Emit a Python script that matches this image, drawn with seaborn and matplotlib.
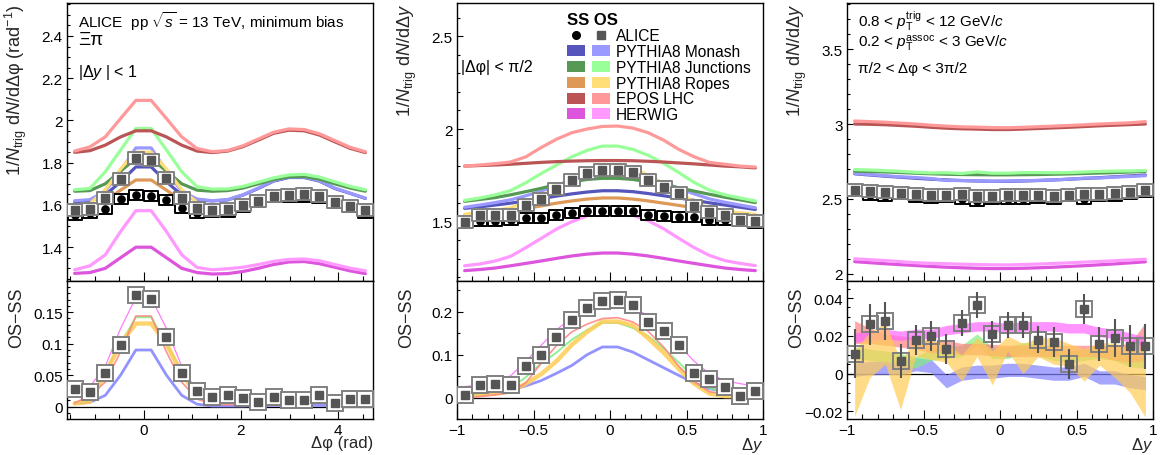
import numpy as np
import matplotlib
matplotlib.use("Agg")
import matplotlib.pyplot as plt
import seaborn as sns
from matplotlib.patches import Patch
from matplotlib.lines import Line2D
from matplotlib.legend_handler import HandlerTuple
from matplotlib.ticker import MultipleLocator, FuncFormatter
from matplotlib.path import Path

# ---------------- data ----------------
models = ["Monash", "Junctions", "Ropes", "EPOS", "HERWIG"]
model_labels = ["PYTHIA8 Monash", "PYTHIA8 Junctions", "PYTHIA8 Ropes", "EPOS LHC", "HERWIG"]

# bin centres
dphi = -np.pi / 2 + (np.arange(20) + 0.5) * np.pi / 10
dy = -0.95 + np.arange(20) * 0.1

# ---- panel 1 : delta phi ----
p1_alice_os = [1.576, 1.581, 1.635, 1.723, 1.820, 1.812, 1.729, 1.635, 1.587, 1.576,
               1.581, 1.600, 1.620, 1.644, 1.647, 1.650, 1.644, 1.613, 1.597, 1.575]
p1_alice_ss = [1.553, 1.561, 1.581, 1.627, 1.647, 1.644, 1.622, 1.584, 1.560, 1.565,
               1.568, 1.592, 1.613, 1.636, 1.636, 1.638, 1.631, 1.608, 1.589, 1.564]
p1_alice_diff = [0.0285, 0.024, 0.054, 0.098, 0.178, 0.171, 0.110, 0.053, 0.025, 0.015,
                 0.019, 0.014, 0.008, 0.016, 0.011, 0.011, 0.018, 0.006, 0.012, 0.012]
p1_monash_ss = [1.615, 1.618, 1.647, 1.710, 1.780, 1.780, 1.710, 1.647, 1.624, 1.619,
                1.624, 1.647, 1.678, 1.713, 1.730, 1.730, 1.713, 1.678, 1.655, 1.631]
p1_monash_os = [1.620, 1.625, 1.665, 1.760, 1.870, 1.870, 1.760, 1.665, 1.628, 1.620,
                1.625, 1.648, 1.680, 1.715, 1.732, 1.732, 1.715, 1.680, 1.656, 1.632]
p1_junc_ss = [1.665, 1.668, 1.700, 1.760, 1.820, 1.820, 1.760, 1.700, 1.670, 1.665,
              1.668, 1.680, 1.700, 1.720, 1.733, 1.735, 1.722, 1.700, 1.680, 1.665]
p1_junc_os = [1.672, 1.678, 1.757, 1.860, 1.962, 1.962, 1.860, 1.757, 1.686, 1.675,
              1.676, 1.688, 1.708, 1.728, 1.742, 1.745, 1.732, 1.710, 1.688, 1.672]
p1_ropes_ss = [1.595, 1.598, 1.620, 1.670, 1.718, 1.718, 1.670, 1.620, 1.595, 1.585,
               1.590, 1.600, 1.620, 1.640, 1.648, 1.650, 1.642, 1.620, 1.600, 1.580]
p1_ropes_os = [1.600, 1.606, 1.672, 1.770, 1.850, 1.850, 1.770, 1.672, 1.612, 1.594,
               1.598, 1.608, 1.628, 1.648, 1.656, 1.658, 1.650, 1.628, 1.607, 1.586]
p1_epos_ss = [1.849, 1.857, 1.883, 1.922, 1.951, 1.951, 1.922, 1.883, 1.855, 1.848,
              1.855, 1.876, 1.907, 1.939, 1.954, 1.951, 1.931, 1.899, 1.868, 1.848]
p1_epos_os = [1.855, 1.875, 1.922, 2.009, 2.095, 2.095, 2.009, 1.922, 1.867, 1.852,
              1.858, 1.880, 1.912, 1.944, 1.960, 1.957, 1.937, 1.905, 1.873, 1.852]
p1_herwig_ss = [1.276, 1.280, 1.300, 1.350, 1.400, 1.400, 1.350, 1.300, 1.280, 1.273,
                1.275, 1.285, 1.300, 1.318, 1.330, 1.332, 1.322, 1.305, 1.288, 1.275]
p1_herwig_os = [1.293, 1.312, 1.364, 1.474, 1.573, 1.573, 1.474, 1.364, 1.304, 1.293,
                1.298, 1.305, 1.318, 1.333, 1.342, 1.344, 1.336, 1.318, 1.301, 1.288]

# ---- panel 2 : delta y, near side ----
p2_alice_os = [1.500, 1.536, 1.536, 1.536, 1.592, 1.622, 1.676, 1.725, 1.763, 1.779,
               1.779, 1.766, 1.725, 1.685, 1.653, 1.583, 1.554, 1.536, 1.511, 1.505]
p2_alice_ss = [1.493, 1.505, 1.505, 1.509, 1.522, 1.522, 1.536, 1.545, 1.556, 1.556,
               1.556, 1.556, 1.536, 1.529, 1.527, 1.525, 1.511, 1.511, 1.505, 1.493]
p2_alice_diff = [0.007, 0.029, 0.033, 0.029, 0.073, 0.100, 0.141, 0.181, 0.208, 0.225,
                 0.228, 0.215, 0.175, 0.154, 0.123, 0.057, 0.043, 0.025, 0.005, 0.017]
p2_monash_ss = [1.572, 1.580, 1.590, 1.600, 1.612, 1.625, 1.638, 1.650, 1.660, 1.667,
                1.667, 1.662, 1.652, 1.640, 1.628, 1.615, 1.602, 1.590, 1.578, 1.566]
p2_monash_os = [1.578, 1.590, 1.603, 1.618, 1.640, 1.665, 1.695, 1.725, 1.760, 1.785,
                1.785, 1.768, 1.740, 1.710, 1.680, 1.650, 1.623, 1.605, 1.590, 1.575]
p2_junc_ss = [1.610, 1.620, 1.630, 1.645, 1.662, 1.680, 1.700, 1.715, 1.728, 1.734,
              1.734, 1.728, 1.715, 1.700, 1.683, 1.665, 1.648, 1.632, 1.618, 1.603]
p2_junc_os = [1.615, 1.628, 1.645, 1.668, 1.710, 1.760, 1.805, 1.850, 1.885, 1.908,
              1.908, 1.890, 1.858, 1.815, 1.765, 1.712, 1.670, 1.645, 1.628, 1.612]
p2_ropes_ss = [1.535, 1.542, 1.550, 1.560, 1.572, 1.585, 1.600, 1.612, 1.622, 1.628,
               1.628, 1.622, 1.612, 1.600, 1.588, 1.575, 1.562, 1.552, 1.544, 1.535]
p2_ropes_os = [1.540, 1.550, 1.560, 1.575, 1.605, 1.640, 1.685, 1.735, 1.775, 1.805,
               1.805, 1.790, 1.750, 1.705, 1.655, 1.608, 1.572, 1.556, 1.548, 1.540]
p2_epos_ss = [1.800, 1.803, 1.806, 1.810, 1.815, 1.820, 1.824, 1.827, 1.829, 1.830,
              1.830, 1.829, 1.826, 1.822, 1.817, 1.812, 1.806, 1.800, 1.796, 1.790]
p2_epos_os = [1.800, 1.806, 1.813, 1.822, 1.850, 1.900, 1.945, 1.980, 2.000, 2.014,
              2.016, 2.005, 1.980, 1.940, 1.890, 1.850, 1.820, 1.810, 1.800, 1.795]
p2_herwig_ss = [1.236, 1.242, 1.250, 1.262, 1.275, 1.288, 1.302, 1.315, 1.325, 1.331,
                1.331, 1.325, 1.315, 1.302, 1.288, 1.275, 1.262, 1.250, 1.242, 1.236]
p2_herwig_os = [1.262, 1.272, 1.288, 1.313, 1.360, 1.410, 1.460, 1.500, 1.532, 1.550,
                1.552, 1.535, 1.505, 1.462, 1.410, 1.360, 1.318, 1.290, 1.275, 1.263]

# ---- panel 3 : delta y, away side ----
p3_alice_os = [2.563, 2.550, 2.545, 2.538, 2.530, 2.527, 2.527, 2.530, 2.520, 2.520,
               2.527, 2.525, 2.525, 2.520, 2.525, 2.533, 2.533, 2.538, 2.547, 2.563]
p3_alice_ss = [2.552, 2.524, 2.517, 2.531, 2.512, 2.507, 2.514, 2.503, 2.484, 2.499,
               2.501, 2.499, 2.507, 2.503, 2.520, 2.499, 2.517, 2.519, 2.532, 2.548]
p3_alice_diff = [0.0106, 0.026, 0.0277, 0.0067, 0.0177, 0.0198, 0.0132, 0.0268, 0.0362, 0.0208,
                 0.0256, 0.0256, 0.018, 0.0168, 0.0049, 0.034, 0.0155, 0.0189, 0.0145, 0.0145]
p3_alice_diff_err = [0.013, 0.011, 0.010, 0.009, 0.008, 0.008, 0.008, 0.007, 0.007, 0.007,
                     0.007, 0.007, 0.007, 0.008, 0.008, 0.008, 0.009, 0.010, 0.011, 0.012]
p3_monash_ss = [2.668, 2.660, 2.652, 2.645, 2.638, 2.632, 2.627, 2.623, 2.620, 2.618,
                2.618, 2.620, 2.623, 2.627, 2.632, 2.637, 2.642, 2.648, 2.654, 2.660]
p3_monash_os = [2.670, 2.663, 2.655, 2.648, 2.643, 2.636, 2.623, 2.623, 2.621, 2.618,
                2.620, 2.622, 2.624, 2.627, 2.632, 2.639, 2.640, 2.646, 2.650, 2.655]
p3_junc_ss = [2.685, 2.683, 2.680, 2.676, 2.672, 2.668, 2.665, 2.663, 2.662, 2.661,
              2.661, 2.662, 2.663, 2.665, 2.667, 2.670, 2.673, 2.676, 2.680, 2.684]
p3_junc_os = [2.696, 2.693, 2.689, 2.684, 2.678, 2.674, 2.675, 2.670, 2.680, 2.672,
              2.672, 2.676, 2.676, 2.675, 2.676, 2.680, 2.684, 2.686, 2.687, 2.690]
p3_ropes_ss = [2.560, 2.555, 2.550, 2.545, 2.540, 2.536, 2.533, 2.530, 2.528, 2.527,
               2.527, 2.528, 2.530, 2.533, 2.536, 2.540, 2.545, 2.550, 2.555, 2.560]
p3_ropes_os = [2.555, 2.565, 2.566, 2.539, 2.554, 2.549, 2.544, 2.533, 2.542, 2.530,
               2.543, 2.536, 2.544, 2.545, 2.546, 2.544, 2.556, 2.557, 2.557, 2.554]
p3_epos_ss = [3.000, 2.998, 2.995, 2.990, 2.985, 2.978, 2.972, 2.968, 2.966, 2.963,
              2.963, 2.966, 2.970, 2.974, 2.978, 2.983, 2.988, 2.992, 2.996, 3.000]
p3_epos_os = [3.020, 3.016, 3.012, 3.006, 3.000, 2.992, 2.986, 2.981, 2.979, 2.976,
              2.975, 2.978, 2.982, 2.986, 2.990, 2.995, 3.000, 3.004, 3.008, 3.016]
p3_herwig_ss = [2.082, 2.075, 2.068, 2.062, 2.056, 2.050, 2.045, 2.041, 2.038, 2.036,
                2.036, 2.038, 2.041, 2.045, 2.050, 2.055, 2.061, 2.067, 2.074, 2.081]
p3_herwig_os = [2.101, 2.095, 2.089, 2.082, 2.075, 2.071, 2.068, 2.065, 2.063, 2.061,
                2.060, 2.063, 2.066, 2.070, 2.074, 2.079, 2.083, 2.088, 2.093, 2.098]
# OS-SS model bands (centre, half width) for the away side
p3_monash_d = [0.002, 0.003, 0.003, 0.003, 0.005, 0.004, -0.004, 0.000, 0.001, 0.001,
               0.002, 0.002, 0.001, 0.000, 0.000, 0.002, -0.002, -0.002, -0.004, -0.005]
p3_monash_hw = [0.0035] * 20
p3_junc_d = [0.011, 0.010, 0.009, 0.0075, 0.006, 0.010, 0.011, 0.012, 0.018, 0.011,
             0.011, 0.0135, 0.0125, 0.010, 0.009, 0.010, 0.011, 0.010, 0.0065, 0.006]
p3_junc_hw = [0.003] * 20
p3_epos_d = [0.022, 0.020, 0.018, 0.017, 0.016, 0.014, 0.0145, 0.013, 0.013, 0.0125,
             0.012, 0.012, 0.012, 0.012, 0.012, 0.012, 0.012, 0.011, 0.011, 0.017]
p3_epos_hw = [0.006, 0.004, 0.003, 0.003, 0.003, 0.003, 0.003, 0.003, 0.003, 0.003,
              0.003, 0.003, 0.003, 0.003, 0.003, 0.003, 0.003, 0.004, 0.005, 0.010]
p3_herwig_d = [0.019, 0.020, 0.021, 0.020, 0.021, 0.021, 0.023, 0.024, 0.025, 0.025,
               0.024, 0.025, 0.025, 0.025, 0.024, 0.024, 0.022, 0.021, 0.019, 0.017]
p3_herwig_hw = [0.0025] * 20
p3_ropes_d = [-0.005, 0.010, 0.016, -0.006, 0.0138, 0.0125, 0.011, 0.003, 0.014, 0.003,
              0.016, 0.008, 0.014, 0.012, 0.010, 0.0045, 0.0105, 0.007, 0.002, -0.0055]
p3_ropes_hw = [0.0175, 0.012, 0.011, 0.013, 0.0045, 0.005, 0.005, 0.007, 0.005, 0.009,
               0.004, 0.008, 0.005, 0.007, 0.006, 0.0085, 0.006, 0.009, 0.012, 0.0175]

# ---------------- style ----------------
SS_COL = {"Monash": "#5555bb", "Junctions": "#559955", "Ropes": "#dd9955",
          "EPOS": "#bb5555", "HERWIG": "#dd55dd"}
OS_COL = {"Monash": "#9999ff", "Junctions": "#99ff99", "Ropes": "#ffdd77",
          "EPOS": "#ff9999", "HERWIG": "#ff99ff"}
DIFF_COL = {"Monash": "#8080ff", "Junctions": "#80ee80", "Ropes": "#ffcc55",
            "EPOS": "#ff8080", "HERWIG": "#ff66ff"}
DIFF_LW = {"Monash": 2.0, "Junctions": 1.4, "Ropes": 3.2, "EPOS": 1.2, "HERWIG": 0.9}

sns.set_theme(style="ticks")
plt.rcParams.update({
    "font.family": ["Liberation Sans", "DejaVu Sans"],
    "mathtext.fontset": "custom",
    "mathtext.rm": "Liberation Sans",
    "mathtext.it": "Liberation Sans:italic",
    "mathtext.bf": "Liberation Sans:bold",
    "axes.edgecolor": "black",
    "axes.linewidth": 1.0,
    "text.color": "black",
})

W_PX, H_PX = 1161, 456
fig = plt.figure(figsize=(W_PX / 100, H_PX / 100), dpi=100)

lefts = [67, 457, 847]
aw = 306 / W_PX
up_b, up_h = 1 - 282 / H_PX, 278 / H_PX
lo_b, lo_h = 1 - 420 / H_PX, 138 / H_PX


def fmt(v, pos):
    v = round(v, 6)
    if abs(v) < 1e-9:
        v = 0.0
    return ("%g" % v).replace("-", "\u2212")


def style(ax, xlim, ylim, xmaj, xmin, ymaj, ymin, xlabels=True):
    ax.set_xlim(xlim)
    ax.set_ylim(ylim)
    ax.xaxis.set_major_locator(MultipleLocator(xmaj))
    ax.xaxis.set_minor_locator(MultipleLocator(xmin))
    ax.yaxis.set_major_locator(MultipleLocator(ymaj))
    ax.yaxis.set_minor_locator(MultipleLocator(ymin))
    ax.xaxis.set_major_formatter(FuncFormatter(fmt))
    ax.yaxis.set_major_formatter(FuncFormatter(fmt))
    ax.tick_params(which="both", direction="in", top=False, right=False,
                   labelsize=11, colors="black", pad=3)
    ax.tick_params(axis="x", which="major", length=6.5, width=0.8)
    ax.tick_params(axis="x", which="minor", length=3.5, width=0.8)
    ax.tick_params(axis="y", which="major", length=4.5, width=0.8)
    ax.tick_params(axis="y", which="minor", length=2.5, width=0.8)
    if not xlabels:
        ax.tick_params(axis="x", labelbottom=False)
    for s in ax.spines.values():
        s.set_visible(True)
        s.set_color("black")
        s.set_linewidth(1.0)


def rect_marker(ratio):
    return Path([(-1, -ratio), (1, -ratio), (1, ratio), (-1, ratio), (-1, -ratio)],
                [Path.MOVETO, Path.LINETO, Path.LINETO, Path.LINETO, Path.CLOSEPOLY])


BOX_OS = rect_marker(0.8)
BOX_SS = rect_marker(0.65)


def draw_upper(ax, x, ss_dict, os_dict, alice_ss, alice_os):
    for m in models:
        sns.lineplot(x=x, y=ss_dict[m], ax=ax, color=SS_COL[m], lw=2.3,
                     estimator=None, sort=False, legend=False, zorder=2)
        sns.lineplot(x=x, y=os_dict[m], ax=ax, color=OS_COL[m], lw=2.3,
                     estimator=None, sort=False, legend=False, zorder=2)
    ax.plot(x, alice_ss, ls="none", marker=BOX_SS, ms=10.5, mfc="white",
            mec="black", mew=1.4, zorder=4)
    ax.plot(x, alice_ss, ls="none", marker="o", ms=5.2, color="black", zorder=5)
    ax.plot(x, alice_os, ls="none", marker=BOX_OS, ms=11.0, mfc="white",
            mec="#808080", mew=1.4, zorder=6)
    ax.plot(x, alice_os, ls="none", marker="s", ms=5.2, color="#555555", zorder=7)


def draw_lower_lines(ax, x, ss_dict, os_dict, alice_diff):
    ax.axhline(0, color="black", lw=0.9, zorder=1)
    for m in models:
        d = np.array(os_dict[m]) - np.array(ss_dict[m])
        sns.lineplot(x=x, y=d, ax=ax, color=DIFF_COL[m], lw=DIFF_LW[m], alpha=0.85,
                     estimator=None, sort=False, legend=False, zorder=2)
    ax.plot(x, alice_diff, ls="none", marker="s", ms=11.5, mfc="white",
            mec="#808080", mew=1.4, zorder=4)
    ax.plot(x, alice_diff, ls="none", marker="s", ms=5.4, color="#555555", zorder=5)


# ---------- panel 1 ----------
ax1 = fig.add_axes([lefts[0] / W_PX, up_b, aw, up_h])
ax1b = fig.add_axes([lefts[0] / W_PX, lo_b, aw, lo_h])
p1_ss = dict(zip(models, [p1_monash_ss, p1_junc_ss, p1_ropes_ss, p1_epos_ss, p1_herwig_ss]))
p1_os = dict(zip(models, [p1_monash_os, p1_junc_os, p1_ropes_os, p1_epos_os, p1_herwig_os]))
draw_upper(ax1, dphi, p1_ss, p1_os, p1_alice_ss, p1_alice_os)
draw_lower_lines(ax1b, dphi, p1_ss, p1_os, p1_alice_diff)
style(ax1, (-np.pi / 2, 3 * np.pi / 2), (1.24, 2.556), 2, 0.5, 0.2, 0.05, xlabels=False)
style(ax1b, (-np.pi / 2, 3 * np.pi / 2), (-0.0195, 0.1995), 2, 0.5, 0.05, 0.01)

# ---------- panel 2 ----------
ax2 = fig.add_axes([lefts[1] / W_PX, up_b, aw, up_h])
ax2b = fig.add_axes([lefts[1] / W_PX, lo_b, aw, lo_h])
p2_ss = dict(zip(models, [p2_monash_ss, p2_junc_ss, p2_ropes_ss, p2_epos_ss, p2_herwig_ss]))
p2_os = dict(zip(models, [p2_monash_os, p2_junc_os, p2_ropes_os, p2_epos_os, p2_herwig_os]))
draw_upper(ax2, dy, p2_ss, p2_os, p2_alice_ss, p2_alice_os)
draw_lower_lines(ax2b, dy, p2_ss, p2_os, p2_alice_diff)
style(ax2, (-1, 1), (1.18, 2.68), 0.5, 0.1, 0.5, 0.1, xlabels=False)
style(ax2b, (-1, 1), (-0.049, 0.271), 0.5, 0.1, 0.1, 0.05)

# ---------- panel 3 ----------
ax3 = fig.add_axes([lefts[2] / W_PX, up_b, aw, up_h])
ax3b = fig.add_axes([lefts[2] / W_PX, lo_b, aw, lo_h])
p3_ss = dict(zip(models, [p3_monash_ss, p3_junc_ss, p3_ropes_ss, p3_epos_ss, p3_herwig_ss]))
p3_os = dict(zip(models, [p3_monash_os, p3_junc_os, p3_ropes_os, p3_epos_os, p3_herwig_os]))
draw_upper(ax3, dy, p3_ss, p3_os, p3_alice_ss, p3_alice_os)
style(ax3, (-1, 1), (1.953, 3.807), 0.5, 0.1, 0.5, 0.1, xlabels=False)

ax3b.axhline(0, color="black", lw=0.9, zorder=1)
p3_d = dict(zip(models, [p3_monash_d, p3_junc_d, p3_ropes_d, p3_epos_d, p3_herwig_d]))
p3_hw = dict(zip(models, [p3_monash_hw, p3_junc_hw, p3_ropes_hw, p3_epos_hw, p3_herwig_hw]))
for m in ["Monash", "Junctions", "EPOS", "HERWIG", "Ropes"]:
    c = np.array(p3_d[m])
    h = np.array(p3_hw[m])
    ax3b.fill_between(dy, c - h, c + h, color=DIFF_COL[m], alpha=0.7, lw=0, zorder=2)
ax3b.errorbar(dy, p3_alice_diff, yerr=p3_alice_diff_err, fmt="none",
              ecolor="#555555", elinewidth=1.5, capsize=0, zorder=5)
ax3b.plot(dy, p3_alice_diff, ls="none", marker="s", ms=11.5, mfc="none",
          mec="#808080", mew=1.4, zorder=4)
ax3b.plot(dy, p3_alice_diff, ls="none", marker="s", ms=5.4, color="#555555", zorder=6)
style(ax3b, (-1, 1), (-0.024, 0.049), 0.5, 0.1, 0.02, 0.005)

# ---------- labels ----------
ylab_up = [r"1/$N_{\mathrm{trig}}$ d$N$/dΔφ (rad$^{-1}$)",
           r"1/$N_{\mathrm{trig}}$ d$N$/dΔ$y$",
           r"1/$N_{\mathrm{trig}}$ d$N$/dΔ$y$"]
xlab = ["Δφ (rad)", r"Δ$y$", r"Δ$y$"]
for ax, lab in zip([ax1, ax2, ax3], ylab_up):
    ax.set_ylabel(lab, fontsize=13, loc="top")
    ax.yaxis.set_label_coords(-0.125, 1.0)
for ax, lab in zip([ax1b, ax2b, ax3b], xlab):
    ax.set_ylabel("OS−SS", fontsize=13, loc="top")
    ax.yaxis.set_label_coords(-0.137, 0.96)
    ax.set_xlabel(lab, fontsize=12, loc="right")
    ax.xaxis.set_label_coords(1.0, -0.115)

# panel texts
def ytop(px):
    return 1 - (px - 4) / 278

ax1.text(0.036, ytop(10), r"ALICE  pp $\sqrt{s}$ = 13 TeV, minimum bias",
         transform=ax1.transAxes, fontsize=11, va="top", ha="left")
ax1.text(0.036, ytop(32), "Ξπ", transform=ax1.transAxes, fontsize=13.5,
         va="top", ha="left")
ax1.text(0.036, ytop(63), r"|Δ$y$ | < 1", transform=ax1.transAxes, fontsize=11.5,
         va="top", ha="left")
ax2.text(0.012, ytop(60), "|Δφ| < π/2", transform=ax2.transAxes, fontsize=11.5,
         va="top", ha="left")
ax3.text(0.036, ytop(10), r"0.8 < $p_{\mathrm{T}}^{\mathrm{trig}}$ < 12 GeV/$c$",
         transform=ax3.transAxes, fontsize=11, va="top", ha="left")
ax3.text(0.036, ytop(34), r"0.2 < $p_{\mathrm{T}}^{\mathrm{assoc}}$ < 3 GeV/$c$",
         transform=ax3.transAxes, fontsize=11, va="top", ha="left")
ax3.text(0.036, ytop(62), "π/2 < Δφ < 3π/2",
         transform=ax3.transAxes, fontsize=11, va="top", ha="left")

# legend
handles = [(Line2D([], [], ls="none", marker="o", ms=5.5, color="black"),
            Line2D([], [], ls="none", marker="s", ms=5.5, color="#555555"))]
for m in models:
    handles.append((Patch(facecolor=SS_COL[m], edgecolor="none"),
                    Patch(facecolor=OS_COL[m], edgecolor="none")))
labels = ["ALICE"] + model_labels
leg = ax2.legend(handles, labels, handler_map={tuple: HandlerTuple(ndivide=2, pad=0.5)},
                 loc="upper left", bbox_to_anchor=((567 - 457) / 306, ytop(13)),
                 frameon=False, fontsize=11.2, handlelength=2.75, handleheight=0.7,
                 handletextpad=0.4, labelspacing=0.05, borderpad=0, borderaxespad=0,
                 title="SS OS", title_fontproperties={"weight": "bold", "size": 12})
leg._legend_box.align = "left"
leg._legend_box.sep = 1

fig.savefig("out.png", dpi=100)
